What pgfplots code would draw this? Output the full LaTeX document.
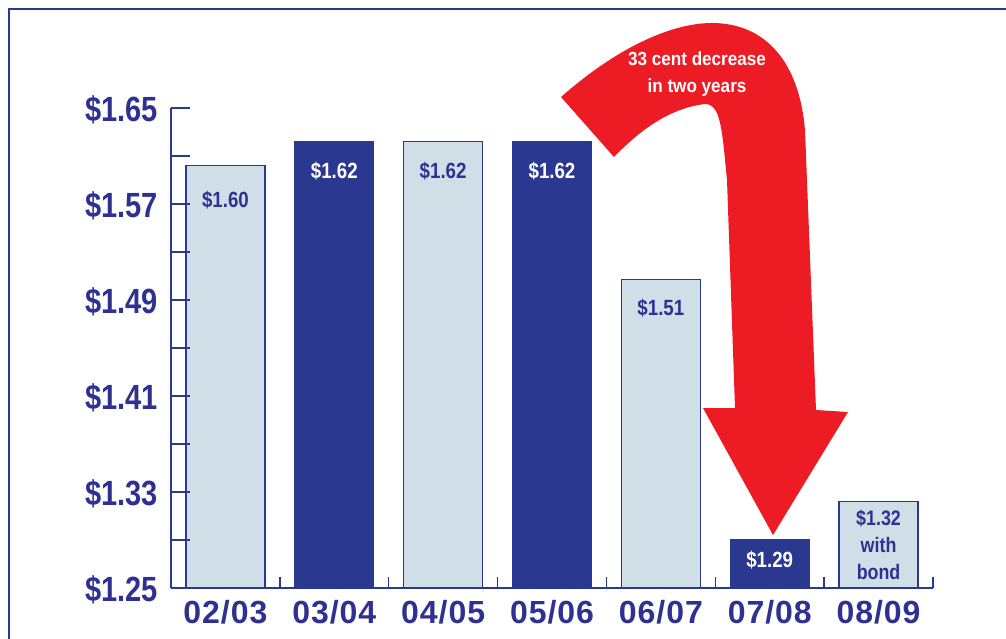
\documentclass[border=0pt]{standalone}
\usepackage{pgfplots}
\pgfplotsset{compat=1.18}
\usepackage{fontspec}
\setmainfont[FakeStretch=0.83]{Liberation Sans}
\newfontfamily\xfont[LetterSpace=3]{Liberation Sans}
\newfontfamily\afont[FakeStretch=0.9]{Liberation Sans}
\newfontfamily\bfont[FakeStretch=0.85]{Liberation Sans}
\definecolor{navy}{HTML}{2A3890}
\definecolor{lightbar}{HTML}{D0DEE7}
\definecolor{txtblue}{HTML}{2E3192}
\definecolor{redarrow}{HTML}{ED1C24}
\begin{document}
\begin{tikzpicture}[x=1pt,y=1pt]
\useasboundingbox (0,0) rectangle (1006,-638);
\draw[navy, line width=2.5pt] (9,-645) -- (9,-9) -- (1015,-9);
\begin{axis}[
  at={(171pt,-588pt)}, anchor=south west,
  scale only axis, width=762pt, height=480pt,
  xmin=-0.5, xmax=6.5, ymin=1.25, ymax=1.65,
  axis x line=bottom, axis y line=left,
  axis line style={-, draw=navy, line width=1.3pt},
  axis on top,
  clip=true,
  xtick={0,1,2,3,4,5,6},
  xticklabels={02/03,03/04,04/05,05/06,06/07,07/08,08/09},
  minor xtick={0.5,1.5,2.5,3.5,4.5,5.5,6.5},
  ytick={1.25,1.29,1.33,1.37,1.41,1.45,1.49,1.53,1.57,1.61,1.65},
  yticklabels={\$1.25,{},\$1.33,{},\$1.41,{},\$1.49,{},\$1.57,{},\$1.65},
  tick align=inside,
  major tick length=19pt, minor tick length=11pt,
  every major x tick/.style={draw=none},
  tick style={draw=navy, line width=1.3pt},
  xticklabel style={inner sep=0pt, anchor=base, yshift=-35pt, text=txtblue, font=\xfont\bfseries\fontsize{32}{32}\selectfont},
  yticklabel style={inner sep=0pt, anchor=east, xshift=-13pt, yshift=-2pt, text=txtblue, font=\bfseries\fontsize{35}{35}\selectfont},
]
\addplot[ybar, bar width=79pt, bar shift=0pt, fill=lightbar, draw=navy, line width=1.3pt]
  coordinates {(0,1.602) (2,1.622) (4,1.507) (6,1.322)};
\addplot[ybar, bar width=79pt, bar shift=0pt, fill=navy, draw=navy, line width=1.3pt]
  coordinates {(1,1.622) (3,1.622) (5,1.29)};
\begin{scope}[every node/.style={font=\bfont\bfseries\fontsize{22}{27}\selectfont, align=center, inner sep=0pt}]
\node[text=txtblue] at (axis cs:0,1.5733) {\$1.60};
\node[text=white] at (axis cs:1,1.5975) {\$1.62};
\node[text=txtblue] at (axis cs:2,1.5975) {\$1.62};
\node[text=white] at (axis cs:3,1.5975) {\$1.62};
\node[text=txtblue] at (axis cs:4,1.4833) {\$1.51};
\node[text=white] at (axis cs:5,1.2733) {\$1.29};
\node[text=txtblue, font=\bfont\bfseries\fontsize{21}{27}\selectfont] at (axis cs:6,1.2858) {\$1.32\\with\\bond};
\end{scope}
\end{axis}
\fill[redarrow] (561,-97) .. controls (620,-45) and (675,-22) .. (715,-23)
  .. controls (772,-25) and (800,-70) .. (805,-130)
  -- (816,-410) -- (848,-412) -- (773,-535) -- (703,-408) -- (735,-408)
  -- (727,-180) .. controls (722,-130) and (721,-104) .. (705,-104)
  .. controls (670,-108) and (640,-130) .. (614,-157) -- cycle;
\node[text=white, font=\afont\bfseries\fontsize{19}{27}\selectfont, align=center, inner sep=0pt] at (697,-74) {33 cent decrease\\in two years};
\end{tikzpicture}
\end{document}
